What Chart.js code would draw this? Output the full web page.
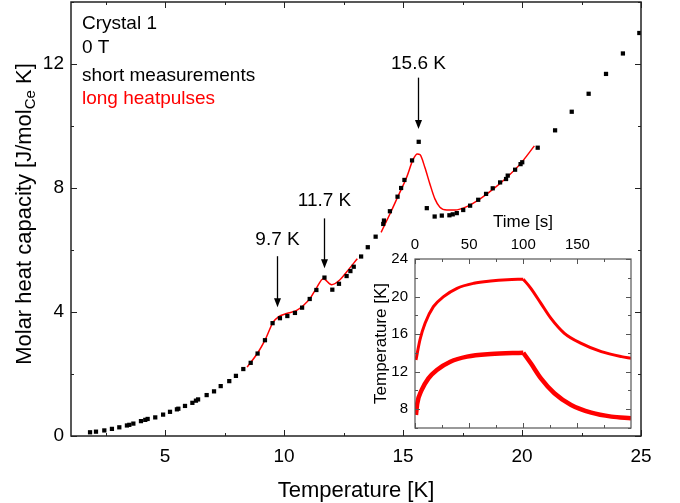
<!DOCTYPE html>
<html>
<head>
<meta charset="utf-8">
<script src="https://cdn.jsdelivr.net/npm/chart.js@4.4.0/dist/chart.umd.min.js"></script>
<style>
  body { margin: 0; background: #fff; }
  #wrap { position: relative; width: 680px; height: 503px; }
  #main { position: absolute; left: 0; top: 0; }
  #inset { position: absolute; left: 340px; top: 200px; }
</style>
</head>
<body>
<div id="wrap">
  <canvas id="main" width="680" height="503"></canvas>
  <canvas id="inset" width="300" height="235"></canvas>
</div>
<script>
// short measurements (black squares)
const shortT = [1.85, 2.1, 2.45, 2.77, 3.08, 3.4, 3.5, 3.67, 3.99, 4.17, 4.27, 4.59, 4.92, 5.21, 5.5, 5.56,
  5.84, 6.15, 6.3, 6.39, 6.75, 7.06, 7.34, 7.7, 7.98, 8.29, 8.6, 8.89, 9.2, 9.52, 9.83, 10.14, 10.46,
  10.76, 11.08, 11.36, 11.7, 12.03, 12.31, 12.63, 12.79, 12.93, 13.24, 13.52, 13.85, 14.17, 14.2, 14.45,
  14.77, 14.92, 15.06, 15.38, 15.66, 16.0, 16.33, 16.63, 16.95, 17.09, 17.26, 17.53, 17.82, 18.16, 18.49,
  18.77, 19.08, 19.33, 19.4, 19.71, 19.94, 20.01, 20.66, 21.39, 22.09, 22.8, 23.53, 24.24, 24.93]
const shortC = [0.12, 0.14, 0.18, 0.23, 0.28, 0.34, 0.36, 0.40, 0.48, 0.52, 0.55, 0.60, 0.69, 0.78, 0.86, 0.88,
  0.97, 1.07, 1.14, 1.18, 1.32, 1.44, 1.61, 1.77, 1.94, 2.16, 2.36, 2.66, 3.09, 3.64, 3.80, 3.87, 3.97,
  4.14, 4.42, 4.71, 5.11, 4.72, 4.91, 5.16, 5.32, 5.46, 5.79, 6.09, 6.43, 6.84, 6.95, 7.25,
  7.72, 8.0, 8.26, 8.89, 9.49, 7.35, 7.08, 7.11, 7.12, 7.15, 7.19, 7.29, 7.43, 7.62, 7.81,
  7.99, 8.18, 8.29, 8.4, 8.59, 8.77, 8.83, 9.30, 9.86, 10.46, 11.04, 11.68, 12.34, 13.0]

// long heatpulses (red lines), two pulses
const pulse1T = [8.45, 8.92, 9.2, 9.55, 9.76, 10.11, 10.53, 10.81, 11.09, 11.37, 11.65, 12.0, 12.35, 12.63, 13.08]
const pulse1C = [2.22, 2.71, 3.09, 3.68, 3.84, 3.95, 4.05, 4.21, 4.43, 4.78, 5.07, 4.88, 5.04, 5.29, 5.72]
const pulse2T = [14.08, 14.45, 14.8, 15.15, 15.43, 15.6, 15.72, 15.92, 16.13, 16.34, 16.55, 16.84, 17.18,
  17.68, 18.24, 18.8, 19.36, 19.92, 20.52]
const pulse2C = [6.57, 7.16, 7.75, 8.34, 8.93, 9.1, 9.07, 8.66, 8.13, 7.65, 7.38, 7.29, 7.29,
  7.4, 7.65, 7.97, 8.34, 8.77, 9.36]

// inset: temperature vs time of the two heatpulses (heating / cooling)
const upHeatTime = [0.9, 4.6, 9.3, 17, 26.4, 38.8, 54.3, 69.8, 85.3, 100]
const upHeatTemp = [13.24, 15.4, 17.15, 18.92, 19.99, 20.88, 21.41, 21.66, 21.8, 21.85]
const upCoolTime = [100, 107, 116.3, 125.6, 138, 153.5, 172.1, 190.7, 199.5]
const upCoolTemp = [21.85, 20.88, 19.28, 17.68, 16.09, 15.02, 14.13, 13.6, 13.43]
const lowHeatTime = [0.9, 2.1, 6.2, 12.4, 20.2, 32.6, 48.1, 70, 100]
const lowHeatTemp = [7.39, 8.63, 10.05, 11.29, 12.18, 13.06, 13.6, 13.88, 14.02]
const lowCoolTime = [100, 107, 116.3, 128.7, 144.2, 162.8, 181.4, 199.5]
const lowCoolTemp = [14.02, 12.89, 11.29, 9.7, 8.45, 7.63, 7.21, 7.04]

// tick labels
const mainXTicks = [5, 10, 15, 20, 25]
const mainYTicks = [0, 4, 8, 12]
const insetXTicks = [0, 50, 100, 150]
const insetYTicks = [8, 12, 16, 20, 24]

// arrows marking the transitions
const arrows = [
  {t: 9.72, top: 5.8, tip: 4.15, text: '9.7 K', base: 6.15},
  {t: 11.69, top: 7.02, tip: 5.41, text: '11.7 K', base: 7.43},
  {t: 15.63, top: 11.56, tip: 9.9, text: '15.6 K', base: 11.83},
]

const FONT = '"Liberation Sans", Arial, sans-serif'
Chart.defaults.font.family = FONT
Chart.defaults.color = '#000'

function pts(xs, ys) {
  return xs.map((x, i) => ({x: x, y: ys[i]}))
}

function fixTicks(list) {
  return s => { s.ticks = list.map(v => ({value: v})) }
}

// fixed axis box size, no extra padding for overhanging labels
function fixSize(w, h) {
  return s => {
    if (w != null) s.width = w
    if (h != null) s.height = h
    s.paddingTop = s.paddingBottom = s.paddingLeft = s.paddingRight = 0
  }
}

function minorMajor(scale) {
  const vals = scale.ticks.map(t => t.value)
  const step = vals[1] - vals[0]
  const out = []
  for (let v = vals[0] - step / 2; v <= scale.max + 1e-9; v += step / 2) {
    if (v < scale.min - 1e-9) continue
    const k = (v - vals[0]) / step
    out.push({v: v, major: Math.abs(k - Math.round(k)) < 1e-6})
  }
  return out
}

// inward ticks on all four sides plus the frame
function drawFrame(chart, color, width, majLen, minLen) {
  const {ctx, chartArea: a} = chart
  const xs = chart.scales.x, ys = chart.scales.y
  ctx.save()
  ctx.strokeStyle = color
  ctx.lineWidth = 1
  ctx.beginPath()
  minorMajor(xs).forEach(t => {
    const p = Math.round(xs.getPixelForValue(t.v)) + 0.5
    const l = t.major ? majLen : minLen
    ctx.moveTo(p, a.bottom); ctx.lineTo(p, a.bottom - l)
    ctx.moveTo(p, a.top); ctx.lineTo(p, a.top + l)
  })
  minorMajor(ys).forEach(t => {
    const p = Math.round(ys.getPixelForValue(t.v)) + 0.5
    const l = t.major ? majLen : minLen
    ctx.moveTo(a.left, p); ctx.lineTo(a.left + l, p)
    ctx.moveTo(a.right, p); ctx.lineTo(a.right - l, p)
  })
  ctx.stroke()
  ctx.lineWidth = width
  ctx.strokeRect(a.left, a.top, a.right - a.left, a.bottom - a.top)
  ctx.restore()
}

const mainDecor = {
  id: 'mainDecor',
  afterDraw(chart) {
    const {ctx, chartArea: a} = chart
    const xs = chart.scales.x, ys = chart.scales.y
    drawFrame(chart, '#222', 1.5, 6, 3)
    ctx.save()
    // legend-like text block
    ctx.font = '19px ' + FONT
    ctx.textAlign = 'left'
    ctx.textBaseline = 'alphabetic'
    ctx.fillStyle = '#000'
    ctx.fillText('Crystal 1', a.left + 11, 29)
    ctx.fillText('0 T', a.left + 11, 53)
    ctx.fillText('short measurements', a.left + 11, 81)
    ctx.fillStyle = '#ff0000'
    ctx.fillText('long heatpulses', a.left + 11, 104)
    // arrows
    ctx.fillStyle = '#000'
    ctx.strokeStyle = '#000'
    ctx.lineWidth = 1.3
    ctx.textAlign = 'center'
    arrows.forEach(ar => {
      const x = Math.round(xs.getPixelForValue(ar.t)) + 0.5
      const y0 = ys.getPixelForValue(ar.top)
      const y1 = ys.getPixelForValue(ar.tip)
      ctx.beginPath()
      ctx.moveTo(x, y0); ctx.lineTo(x, y1 - 7)
      ctx.stroke()
      ctx.beginPath()
      ctx.moveTo(x, y1); ctx.lineTo(x - 3.5, y1 - 9); ctx.lineTo(x + 3.5, y1 - 9)
      ctx.closePath(); ctx.fill()
      ctx.fillText(ar.text, x, ys.getPixelForValue(ar.base))
    })
    // x title
    ctx.font = '22px ' + FONT
    ctx.fillText('Temperature [K]', (a.left + a.right) / 2, 497)
    // y title with subscript
    const p1 = 'Molar heat capacity [J/mol', p2 = 'Ce', p3 = ' K]'
    const w1 = ctx.measureText(p1).width, w3 = ctx.measureText(p3).width
    ctx.font = '15px ' + FONT
    const w2 = ctx.measureText(p2).width
    ctx.translate(31, 214)
    ctx.rotate(-Math.PI / 2)
    ctx.textAlign = 'left'
    let x0 = -(w1 + w2 + w3) / 2
    ctx.font = '22px ' + FONT
    ctx.fillText(p1, x0, 0)
    ctx.font = '15px ' + FONT
    ctx.fillText(p2, x0 + w1, 4)
    ctx.font = '22px ' + FONT
    ctx.fillText(p3, x0 + w1 + w2, 0)
    ctx.restore()
  }
}

new Chart(document.getElementById('main'), {
  type: 'scatter',
  data: {
    datasets: [
      {
        data: pts(shortT, shortC),
        pointStyle: 'rect', pointRadius: 3, borderWidth: 0,
        backgroundColor: '#000', borderColor: '#000'
      },
      {
        data: pts(pulse1T, pulse1C), showLine: true, pointRadius: 0,
        borderColor: '#ff0000', borderWidth: 1.5, cubicInterpolationMode: 'monotone'
      },
      {
        data: pts(pulse2T, pulse2C), showLine: true, pointRadius: 0,
        borderColor: '#ff0000', borderWidth: 1.5, cubicInterpolationMode: 'monotone'
      }
    ]
  },
  options: {
    responsive: false, animation: false, events: [],
    layout: {autoPadding: false, padding: {top: 2, right: 39, left: 0, bottom: 0}},
    plugins: {legend: {display: false}, tooltip: {enabled: false}},
    scales: {
      x: {
        type: 'linear', min: 1.05, max: 25,
        grid: {display: false, drawTicks: false}, border: {display: false},
        ticks: {padding: 9, font: {size: 19}, maxRotation: 0, autoSkip: false},
        afterBuildTicks: fixTicks(mainXTicks),
        afterFit: fixSize(null, 67)
      },
      y: {
        type: 'linear', min: 0, max: 14,
        grid: {display: false, drawTicks: false}, border: {display: false},
        ticks: {padding: 7, font: {size: 19}, autoSkip: false},
        afterBuildTicks: fixTicks(mainYTicks),
        afterFit: fixSize(71, null)
      }
    }
  },
  plugins: [mainDecor]
})

const insetDecor = {
  id: 'insetDecor',
  afterDraw(chart) {
    const {ctx, chartArea: a} = chart
    drawFrame(chart, '#555', 1.2, 5, 3)
    ctx.save()
    ctx.fillStyle = '#000'
    ctx.font = '17px ' + FONT
    ctx.textAlign = 'center'
    ctx.textBaseline = 'alphabetic'
    ctx.fillText('Time [s]', (a.left + a.right) / 2, 27)
    ctx.translate(46, (a.top + a.bottom) / 2)
    ctx.rotate(-Math.PI / 2)
    ctx.fillText('Temperature [K]', 0, 0)
    ctx.restore()
  }
}

const insetLine = (xs, ys, w) => ({
  data: pts(xs, ys), showLine: true, pointRadius: 0,
  borderColor: '#ff0000', borderWidth: w, cubicInterpolationMode: 'monotone'
})

new Chart(document.getElementById('inset'), {
  type: 'scatter',
  data: {
    datasets: [
      insetLine(upHeatTime, upHeatTemp, 3),
      insetLine(upCoolTime, upCoolTemp, 3),
      insetLine(lowHeatTime, lowHeatTemp, 4.5),
      insetLine(lowCoolTime, lowCoolTemp, 4.5)
    ]
  },
  options: {
    responsive: false, animation: false, events: [],
    layout: {autoPadding: false, padding: {top: 0, right: 9, left: 0, bottom: 7}},
    plugins: {legend: {display: false}, tooltip: {enabled: false}},
    scales: {
      x: {
        type: 'linear', position: 'top', min: 0, max: 199.5,
        grid: {display: false, drawTicks: false}, border: {display: false},
        ticks: {padding: 5, font: {size: 15}, maxRotation: 0, autoSkip: false},
        afterBuildTicks: fixTicks(insetXTicks),
        afterFit: fixSize(null, 59)
      },
      y: {
        type: 'linear', min: 6, max: 24,
        grid: {display: false, drawTicks: false}, border: {display: false},
        ticks: {padding: 7, font: {size: 15}, autoSkip: false},
        afterBuildTicks: fixTicks(insetYTicks),
        afterFit: fixSize(75, null)
      }
    }
  },
  plugins: [insetDecor]
})
</script>
</body>
</html>
